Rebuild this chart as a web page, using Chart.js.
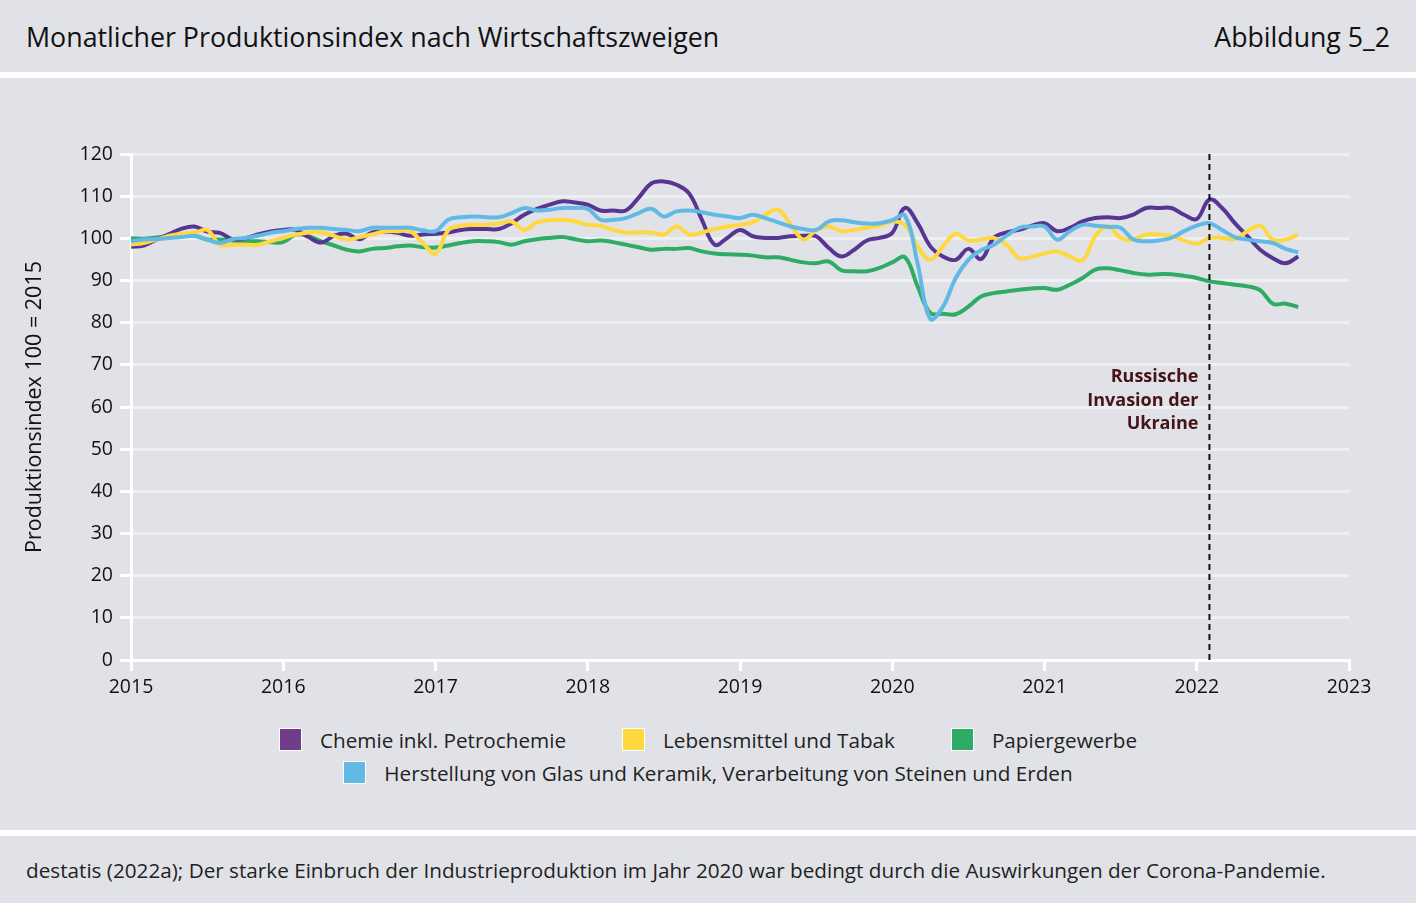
<!DOCTYPE html>
<html>
<head>
<meta charset="utf-8">
<script src="https://cdn.jsdelivr.net/npm/chart.js@4"></script>
<style>
  body { margin:0; width:1416px; height:903px; background:#e1e2e7; font-family: "Open Sans", sans-serif; color:#111; position:relative; overflow:hidden; }
  #head { position:absolute; left:0; top:0; width:1416px; height:72px; }
  #title { position:absolute; left:26px; top:20px; font-size:26.8px; line-height:34px; }
  #fig { position:absolute; right:26px; top:20px; font-size:26.7px; line-height:34px; }
  .band { position:absolute; left:0; width:1416px; height:6px; background:#fff; }
  #wrap { position:absolute; left:0; top:78px; width:1416px; height:640px; }
  #legend { position:absolute; left:0; top:723px; width:1416px; font-size:20.7px; color:#222; }
  .row { display:flex; justify-content:center; height:33px; align-items:center; }
  .item { display:flex; align-items:center; margin:0 28px; }
  .box { width:21px; height:21px; border:1px solid #fff; margin-right:18px; }
  #foot { position:absolute; left:26px; top:856px; font-size:20.7px; line-height:29px; color:#222; }
</style>
</head>
<body>
<div id="head"><div id="title">Monatlicher Produktionsindex nach Wirtschaftszweigen</div><div id="fig">Abbildung 5_2</div></div>
<div class="band" style="top:72px"></div>
<div id="wrap"><canvas id="chart" width="1416" height="640"></canvas></div>
<div id="legend"></div>
<div class="band" style="top:830px"></div>
<div id="foot">destatis (2022a); Der starke Einbruch der Industrieproduktion im Jahr 2020 war bedingt durch die Auswirkungen der Corona-Pandemie.</div>
<script>
// monthly values, Jan 2015 .. Sep 2022
var startYear = 2015;
var chemie = [98,98.3,99.7,101,102.3,102.8,101.6,101.3,99.8,100,100.9,101.6,
  102,102,100.3,99,100.6,101.1,99.8,101.4,101.6,101.3,100.6,100.9,
  101.1,101.4,102,102.2,102.2,102.2,103.6,105.6,107,108,108.8,108.5,
  108,106.6,106.6,106.6,109.6,113,113.5,112.7,110.6,104.4,98.5,100.1,
  102,100.5,100.1,100.1,100.5,100.6,100.5,97.7,95.7,97.3,99.5,100.1,
  101.3,107.2,103.6,98.1,95.7,94.9,97.5,95.1,100.1,101.4,102,103,
  103.6,101.7,102.5,104,104.8,105,104.8,105.6,107.2,107.2,107.2,105.6,
  104.6,109.2,107.2,103.6,100.5,97.3,95.3,94.1,95.7];
var lebensmittel = [98.5,98.9,99.7,100.6,101.1,101.3,102,98.5,98.5,98.5,98.5,99.3,
  100.1,100.9,101.4,101.4,100.6,99.7,100.3,100.9,101.7,101.7,101.7,98.9,
  96.4,101.9,103,103.2,103.2,103.5,104,102,103.8,104.3,104.4,104,
  103.2,103,102,101.4,101.4,101.4,100.9,102.8,100.9,101.4,102.2,102.8,
  103.2,103.8,105.6,106.8,103.2,99.7,101.9,102.8,101.7,102,102.5,103,
  104,103.2,98.1,94.9,98.1,101.1,99.5,99.7,100.1,98.5,95.3,95.6,
  96.4,96.9,95.7,94.8,100.5,103,100.1,99.7,100.9,100.9,100.6,99.5,
  98.7,100.1,100.1,99.8,101.7,103,99.7,99.7,100.9];
var papier = [100,99.9,100.2,100.5,100.6,100.6,99.7,99.7,99.5,99.3,99.3,99.1,
  99.1,100.9,100.5,99.3,98.3,97.3,96.9,97.5,97.7,98.1,98.3,97.9,
  97.8,98.3,98.9,99.3,99.3,99.1,98.5,99.3,99.8,100.1,100.3,99.8,
  99.3,99.5,99.1,98.5,97.9,97.3,97.5,97.5,97.7,96.9,96.4,96.2,
  96.1,95.9,95.5,95.5,94.9,94.3,94.1,94.5,92.4,92.2,92.2,93,
  94.3,95.5,88.6,82.3,82.1,82,83.8,86.2,87,87.4,87.8,88.1,
  88.2,87.8,89,90.6,92.6,92.9,92.4,91.8,91.4,91.5,91.5,91.1,
  90.6,89.8,89.4,89,88.6,87.7,84.5,84.5,83.7];
var glas = [99.3,99.7,99.8,100.1,100.3,100.6,99.7,98.9,99.8,100.1,100.6,101.3,
  101.7,102.2,102.5,102.5,102.2,102,101.7,102.5,102.5,102.5,102.5,101.9,
  101.7,104.4,105,105.2,105,105,106,107.2,106.6,106.8,107.2,107.2,
  107,104.4,104.4,104.8,106,107,105.2,106.4,106.6,106.2,105.6,105.2,
  104.8,105.6,104.8,103.8,102.8,102.2,102,104,104.3,103.8,103.5,103.6,
  104.3,105.4,94,80.9,83.8,90.6,94.9,97.2,98.5,100.6,102.5,102.8,
  102.8,99.7,101.7,103.2,103,102.7,102.5,99.7,99.3,99.5,100.1,101.7,
  103,103.6,102,100.3,99.7,99.3,98.9,97.5,96.7];

var seriesNames = ['Chemie inkl. Petrochemie', 'Lebensmittel und Tabak', 'Papiergewerbe',
  'Herstellung von Glas und Keramik, Verarbeitung von Steinen und Erden'];
var lineColors = ['#573592', '#ffd740', '#2eab65', '#63b9e6'];
var boxColors = ['#703d8b', '#ffd83f', '#2eab65', '#63b9e6'];
var yTicks = [0,10,20,30,40,50,60,70,80,90,100,110,120];
var xYears = [2015,2016,2017,2018,2019,2020,2021,2022,2023];
var invasionMonth = 85; // Feb 2022
var noteLines = ['Russische', 'Invasion der', 'Ukraine'];

function toPoints(arr) {
  return arr.map(function(v, i) { return { x: startYear + i / 12, y: v }; });
}

var allSeries = [chemie, lebensmittel, papier, glas];
var datasets = allSeries.map(function(s, i) {
  return {
    label: seriesNames[i],
    data: toPoints(s),
    borderColor: lineColors[i],
    backgroundColor: lineColors[i],
    borderWidth: 4,
    pointRadius: 0,
    tension: 0.4,
    fill: false
  };
});
// blue on top, green at the bottom
datasets[0].order = 3; datasets[1].order = 2; datasets[2].order = 4; datasets[3].order = 1;

// legend as html
var leg = document.getElementById('legend');
var rows = [[0,1,2],[3]];
rows.forEach(function(r) {
  var row = document.createElement('div');
  row.className = 'row';
  r.forEach(function(i) {
    var it = document.createElement('div');
    it.className = 'item';
    it.innerHTML = '<div class="box" style="background:' + boxColors[i] + '"></div><span>' + seriesNames[i] + '</span>';
    row.appendChild(it);
  });
  leg.appendChild(row);
});

var invasionLine = {
  id: 'invasionLine',
  afterDatasetsDraw: function(chart) {
    var ctx = chart.ctx;
    var xs = chart.scales.x, ys = chart.scales.y;
    var px = xs.getPixelForValue(startYear + invasionMonth / 12);
    ctx.save();
    ctx.strokeStyle = '#111';
    ctx.lineWidth = 2;
    ctx.setLineDash([6, 4]);
    ctx.beginPath();
    ctx.moveTo(px, chart.chartArea.top);
    ctx.lineTo(px, chart.chartArea.bottom);
    ctx.stroke();
    ctx.setLineDash([]);
    ctx.fillStyle = '#45141a';
    ctx.font = 'bold 18px "Open Sans"';
    ctx.textAlign = 'right';
    ctx.textBaseline = 'middle';
    var y0 = ys.getPixelForValue(67.1);
    noteLines.forEach(function(t, k) {
      ctx.fillText(t, px - 11, y0 + k * 23.5);
    });
    ctx.restore();
  }
};

var ctx = document.getElementById('chart').getContext('2d');
var myChart = new Chart(ctx, {
  type: 'line',
  data: { datasets: datasets },
  plugins: [invasionLine],
  options: {
    animation: false,
    responsive: false,
    layout: { padding: { left: 22, right: 67, top: 76, bottom: 8 } },
    plugins: { legend: { display: false }, tooltip: { enabled: false } },
    scales: {
      x: {
        type: 'linear',
        min: 2015, max: 2023,
        afterBuildTicks: function(s) { s.ticks = xYears.map(function(v) { return { value: v }; }); },
        afterFit: function(s) { s.height = 50; },
        ticks: { callback: function(v) { return String(v); }, color: '#111', font: { family: 'Open Sans', size: 19.5 }, padding: 5, maxRotation: 0 },
        grid: { drawOnChartArea: false, drawTicks: true, tickLength: 11, tickColor: '#ffffff', lineWidth: 3 },
        border: { color: '#ffffff', width: 3 }
      },
      y: {
        min: 0, max: 120,
        afterBuildTicks: function(s) { s.ticks = yTicks.map(function(v) { return { value: v }; }); },
        afterFit: function(s) { s.width = 109; },
        ticks: { color: '#111', font: { family: 'Open Sans', size: 19.5 }, padding: 7 },
        grid: { color: '#eeeff1', lineWidth: 3, tickLength: 11, tickColor: '#ffffff' },
        border: { color: '#ffffff', width: 3 },
        title: { display: true, text: 'Produktionsindex 100 = 2015', color: '#111', font: { family: 'Open Sans', size: 21.5 }, padding: { top: 0, bottom: 0 } }
      }
    }
  }
});
</script>
</body>
</html>
